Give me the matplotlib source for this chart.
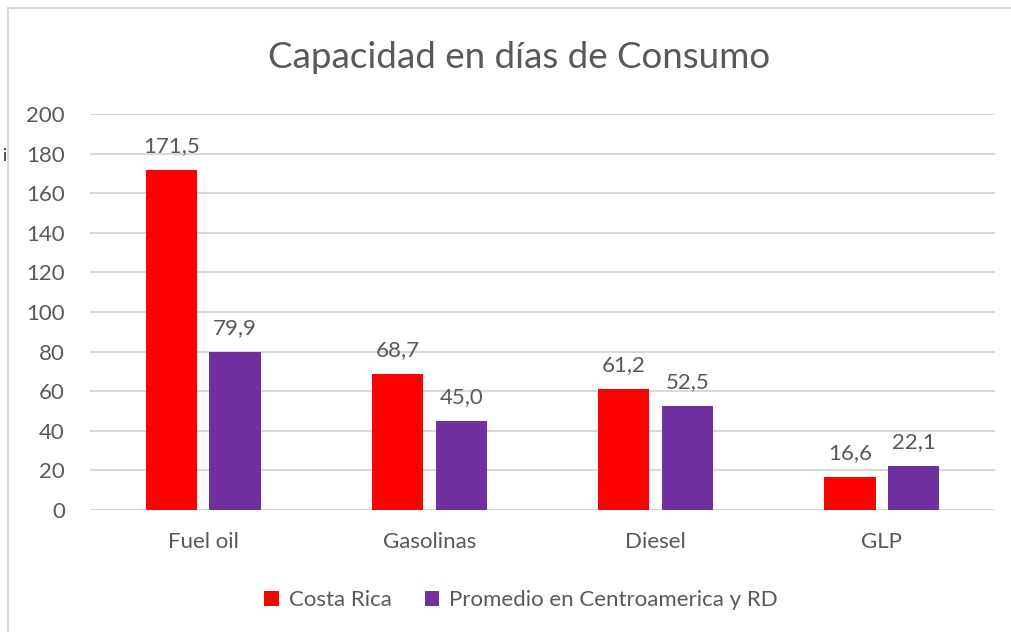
import matplotlib
matplotlib.use("Agg")
import matplotlib.pyplot as plt
from matplotlib.lines import Line2D
import numpy as np

categories = ["Fuel oil", "Gasolinas", "Diesel", "GLP"]
costa_rica = [171.5, 68.7, 61.2, 16.6]
promedio = [79.9, 45.0, 52.5, 22.1]
series_names = ["Costa Rica", "Promedio en Centroamerica y RD"]
yticks = [0, 20, 40, 60, 80, 100, 120, 140, 160, 180, 200]

plt.rcParams['font.family'] = ['Lato', 'DejaVu Sans']
TXT = "#595959"
RED = "#ff0000"
PURPLE = "#7030a0"
FS = 16

W, H = 1011, 632
fig = plt.figure(figsize=(W / 100, H / 100), dpi=100)

# axes placement in pixels
x0, x1 = 90, 995
ytop, ybot = 114, 510
ax = fig.add_axes([x0 / W, 1 - ybot / H, (x1 - x0) / W, (ybot - ytop) / H])

x = np.arange(len(categories))
bw = 0.226
off = 0.141
b1 = ax.bar(x - off, costa_rica, bw, color=RED, zorder=3, label=series_names[0])
b2 = ax.bar(x + off, promedio, bw, color=PURPLE, zorder=3, label=series_names[1])

for bars, vals in ((b1, costa_rica), (b2, promedio)):
    for r, v in zip(bars, vals):
        ax.annotate(f"{v:.1f}".replace(".", ","),
                    (r.get_x() + r.get_width() / 2, v),
                    xytext=(0, 13), textcoords="offset points",
                    ha="center", va="baseline", fontsize=FS, color=TXT)

ax.set_xlim(-0.5, len(categories) - 0.5)
ax.set_ylim(0, 200)
ax.set_yticks(yticks)
ax.set_yticklabels([str(t) for t in yticks])
ax.set_xticks(x)
ax.set_xticklabels(categories)
ax.tick_params(axis="both", length=0, labelsize=FS, labelcolor=TXT)
ax.tick_params(axis="y", pad=18)
ax.tick_params(axis="x", pad=16)
ax.grid(axis="y", color="#d9d9d9", linewidth=1.5, zorder=0)
for s in ax.spines.values():
    s.set_visible(False)

fig.text(519 / W, 1 - 57 / H, "Capacidad en días de Consumo", ha="center", va="center",
         fontsize=26.5, color=TXT)

leg = fig.legend(handles=[b1, b2], labels=series_names, loc="center",
                 bbox_to_anchor=(521 / W, 1 - 600 / H), ncol=2, frameon=False,
                 fontsize=FS, handlelength=0.65, handleheight=0.65,
                 handletextpad=0.45, columnspacing=1.5)
for t in leg.get_texts():
    t.set_color(TXT)

# chart border
fig.add_artist(Line2D([8 / W, 8 / W], [0, 1 - 8 / H], transform=fig.transFigure,
                      color="#d9d9d9", linewidth=1.5))
fig.add_artist(Line2D([8 / W, 1], [1 - 8 / H, 1 - 8 / H], transform=fig.transFigure,
                      color="#d9d9d9", linewidth=1.5))
fig.text(2 / W, 1 - 156 / H, "i", fontsize=12, color="#222222", ha="left", va="center")

fig.savefig("out.png", dpi=100)
